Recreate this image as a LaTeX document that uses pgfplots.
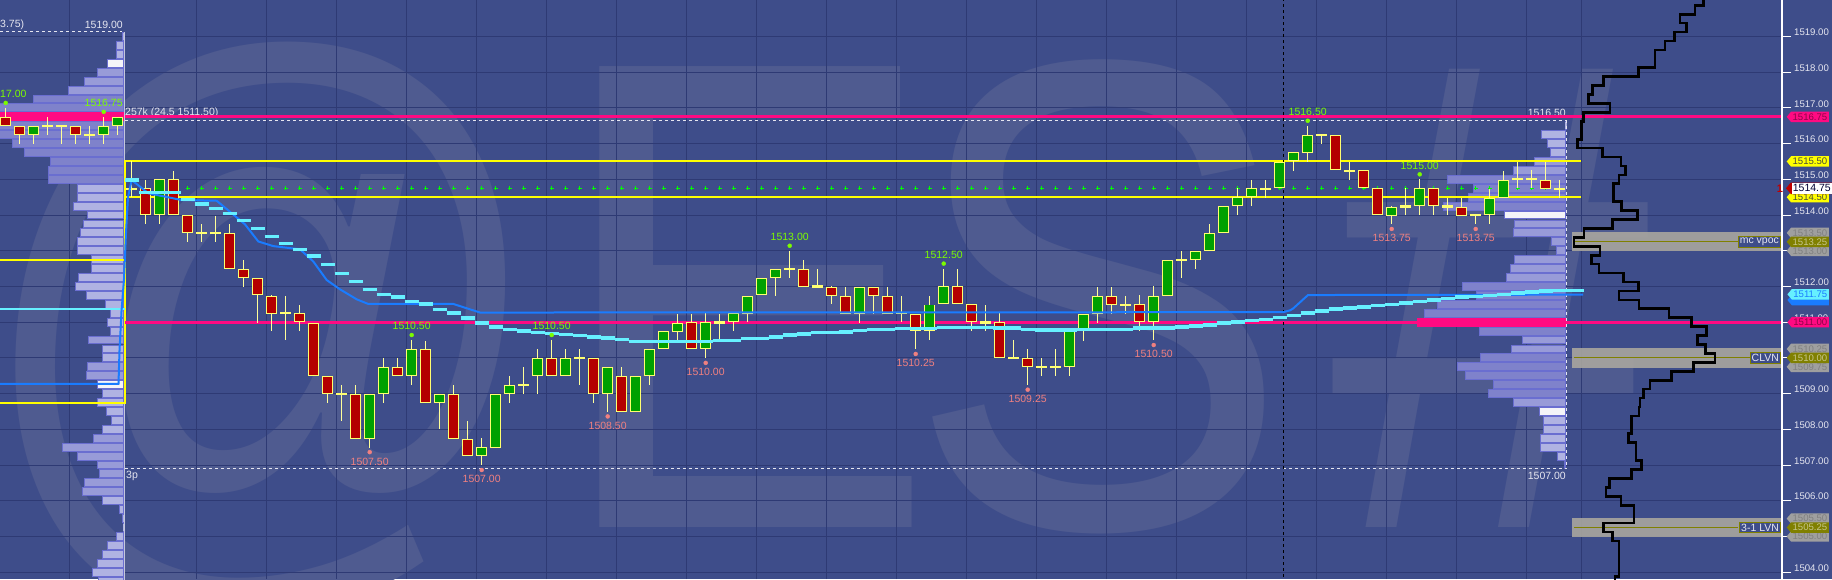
\documentclass[border=0pt]{standalone}
\usepackage{pgfplots}
\pgfplotsset{compat=1.18}
\usepackage{pgfplotstable}
\usepackage{fontspec}
\setmainfont{Liberation Sans}
\usetikzlibrary{shapes.symbols}

\definecolor{bg}{HTML}{3E4D8A}
\definecolor{wm}{HTML}{4F5B90}
\definecolor{gridc}{HTML}{2E3A74}
\definecolor{cup}{HTML}{00A000}
\definecolor{cdn}{HTML}{B40000}
\definecolor{cedge}{HTML}{FFFF70}
\definecolor{wick}{HTML}{FFFF99}
\definecolor{vwap}{HTML}{1A7CFF}
\definecolor{cyanl}{HTML}{66F0FF}
\definecolor{mag}{HTML}{FF0A82}
\definecolor{yel}{HTML}{FFFF00}
\definecolor{hidot}{HTML}{7CFC00}
\definecolor{lodot}{HTML}{F08080}
\definecolor{pborder}{HTML}{6A6ED0}
\definecolor{plight}{HTML}{B0B3E2}
\definecolor{pmid}{HTML}{989BD8}
\definecolor{pdark}{HTML}{7F82CB}
\definecolor{pwhite}{HTML}{F4F4F8}
\definecolor{zone}{HTML}{A9A69F}
\definecolor{olv}{HTML}{808000}
\definecolor{lbl}{HTML}{E6E6F0}
\definecolor{tagtxt}{HTML}{4A4A3A}

% candles: index i sits at x = 131.7 + 14 i (negative = prior session)
\pgfplotstableread{
i o h l c
-9 1516.75 1517.0 1516.5 1516.5
-8 1516.5 1516.5 1516.0 1516.25
-7 1516.25 1516.5 1516.0 1516.5
-6 1516.5 1516.75 1516.25 1516.5
-5 1516.5 1516.5 1516.0 1516.5
-4 1516.5 1516.5 1516.0 1516.25
-3 1516.25 1516.5 1516.0 1516.25
-2 1516.25 1516.75 1516.0 1516.5
-1 1516.5 1516.75 1516.25 1516.75
0 1514.75 1515.5 1514.5 1514.75
1 1514.75 1515.0 1513.75 1514.0
2 1514.0 1515.0 1513.75 1515.0
3 1515.0 1515.25 1514.0 1514.0
4 1514.0 1514.0 1513.25 1513.5
5 1513.5 1513.75 1513.25 1513.5
6 1513.5 1514.0 1513.25 1513.5
7 1513.5 1513.75 1512.5 1512.5
8 1512.5 1512.75 1512.0 1512.25
9 1512.25 1512.25 1511.0 1511.75
10 1511.75 1511.75 1510.75 1511.25
11 1511.25 1511.75 1510.5 1511.25
12 1511.25 1511.5 1510.75 1511.0
13 1511.0 1511.0 1509.5 1509.5
14 1509.5 1509.5 1508.75 1509.0
15 1509.0 1509.25 1508.25 1509.0
16 1509.0 1509.25 1507.75 1507.75
17 1507.75 1509.0 1507.5 1509.0
18 1509.0 1510.0 1508.75 1509.75
19 1509.75 1510.0 1509.5 1509.5
20 1509.5 1510.5 1509.25 1510.25
21 1510.25 1510.5 1508.75 1508.75
22 1508.75 1509.0 1508.0 1509.0
23 1509.0 1509.25 1507.75 1507.75
24 1507.75 1508.25 1507.25 1507.25
25 1507.25 1507.75 1507.0 1507.5
26 1507.5 1509.0 1507.5 1509.0
27 1509.0 1509.5 1508.75 1509.25
28 1509.25 1509.75 1509.0 1509.25
29 1509.5 1510.25 1509.0 1510.0
30 1510.0 1510.5 1509.5 1509.5
31 1509.5 1510.25 1509.5 1510.0
32 1510.0 1510.25 1509.25 1510.0
33 1510.0 1510.0 1508.75 1509.0
34 1509.0 1509.75 1508.5 1509.75
35 1509.5 1509.75 1508.5 1508.5
36 1508.5 1509.5 1508.5 1509.5
37 1509.5 1510.25 1509.25 1510.25
38 1510.25 1510.75 1510.25 1510.75
39 1510.75 1511.25 1510.5 1511.0
40 1511.0 1511.25 1510.25 1510.25
41 1510.25 1511.25 1510.0 1511.0
42 1511.0 1511.25 1510.5 1511.0
43 1511.0 1511.25 1510.75 1511.25
44 1511.25 1511.75 1511.0 1511.75
45 1511.75 1512.25 1511.75 1512.25
46 1512.25 1512.5 1511.75 1512.5
47 1512.5 1513.0 1512.25 1512.5
48 1512.5 1512.75 1512.0 1512.0
49 1512.0 1512.5 1512.0 1512.0
50 1512.0 1512.0 1511.5 1511.75
51 1511.75 1512.0 1511.25 1511.25
52 1511.25 1512.0 1511.0 1512.0
53 1512.0 1512.0 1511.25 1511.75
54 1511.75 1512.0 1511.25 1511.25
55 1511.25 1511.75 1511.0 1511.25
56 1511.25 1511.25 1510.25 1510.75
57 1510.75 1511.75 1510.5 1511.5
58 1511.5 1512.5 1511.5 1512.0
59 1512.0 1512.5 1511.5 1511.5
60 1511.5 1511.5 1510.75 1511.0
61 1511.0 1511.5 1510.75 1511.0
62 1511.0 1511.25 1510.0 1510.0
63 1510.0 1510.5 1510.0 1510.0
64 1510.0 1510.25 1509.25 1509.75
65 1509.75 1510.0 1509.5 1509.75
66 1509.75 1510.25 1509.5 1509.75
67 1509.75 1510.75 1509.5 1510.75
68 1510.75 1511.25 1510.5 1511.25
69 1511.25 1512.0 1511.0 1511.75
70 1511.75 1512.0 1511.25 1511.5
71 1511.5 1511.75 1511.25 1511.5
72 1511.5 1511.75 1510.75 1511.0
73 1511.0 1512.0 1510.5 1511.75
74 1511.75 1512.75 1511.75 1512.75
75 1512.75 1513.0 1512.25 1512.75
76 1512.75 1513.0 1512.5 1513.0
77 1513.0 1513.75 1513.0 1513.5
78 1513.5 1514.25 1513.5 1514.25
79 1514.25 1514.75 1514.0 1514.5
80 1514.5 1515.0 1514.25 1514.75
81 1514.75 1515.0 1514.5 1514.75
82 1514.75 1515.5 1514.75 1515.5
83 1515.5 1515.75 1515.25 1515.75
84 1515.75 1516.5 1515.5 1516.25
85 1516.25 1516.25 1516.0 1516.25
86 1516.25 1516.25 1515.25 1515.25
87 1515.25 1515.5 1515.0 1515.25
88 1515.25 1515.25 1514.75 1514.75
89 1514.75 1514.75 1514.0 1514.0
90 1514.0 1514.25 1513.75 1514.25
91 1514.25 1514.75 1514.0 1514.25
92 1514.25 1515.0 1514.0 1514.75
93 1514.75 1514.75 1514.0 1514.25
94 1514.25 1514.5 1514.0 1514.25
95 1514.25 1514.5 1514.0 1514.0
96 1514.0 1514.0 1513.75 1514.0
97 1514.0 1514.75 1513.75 1514.5
98 1514.5 1515.25 1514.5 1515.0
99 1515.0 1515.5 1514.75 1515.0
100 1515.0 1515.25 1514.75 1515.0
101 1515.0 1515.5 1514.75 1514.75
102 1514.75 1515.0 1514.5 1514.75
}\candles

% volume profiles: price, left end of bar, kind (0 light,1 dark,2 white,3 poc,4 mid)
\pgfplotstableread{
p l k
1519.0 122.3 0
1518.75 115.7 0
1518.5 115.7 0
1518.25 106.7 2
1518.0 97.3 4
1517.75 84.3 4
1517.5 68.3 4
1517.25 33.3 1
1517.0 -5 1
1516.75 -5 3
1516.5 -5 1
1516.25 -5 1
1516.0 12.3 1
1515.75 24.3 1
1515.5 50 1
1515.25 47.7 1
1515.0 48.3 1
1514.75 76.7 0
1514.5 76.7 0
1514.25 72.7 0
1514.0 87.3 0
1513.75 83.3 0
1513.5 80 0
1513.25 77.3 0
1513.0 77.3 0
1512.75 90.7 0
1512.5 90.7 0
1512.25 78.3 0
1512.0 75 0
1511.75 85.7 0
1511.5 105 0
1511.25 110 0
1511.0 106.7 0
1510.75 110 0
1510.5 88.3 4
1510.25 101.7 0
1510.0 101.7 0
1509.75 87.3 4
1509.5 85.7 4
1509.25 96.7 2
1509.0 101.7 0
1508.75 96.7 0
1508.5 106 0
1508.25 110.7 0
1508.0 102.3 0
1507.75 93.3 4
1507.5 62.3 4
1507.25 77.3 4
1507.0 97.3 4
1506.75 99.3 4
1506.5 84.3 4
1506.25 82.3 4
1506.0 101.7 0
1505.75 119 0
1505.5 121.7 0
1505.25 122.7 0
1505.0 115.7 0
1504.75 106.7 0
1504.5 102.3 0
1504.25 96.7 0
1504.0 91.7 0
1503.75 98.3 0
}\lprof

\pgfplotstableread{
p l k
1516.5 1565.3 0
1516.25 1541.3 0
1516.0 1547.3 0
1515.75 1550 0
1515.5 1534.3 4
1515.25 1513.3 4
1515.0 1446.7 1
1514.75 1473.3 1
1514.5 1467.7 1
1514.25 1443.3 1
1514.0 1504.3 2
1513.75 1514.3 4
1513.5 1513.3 4
1513.25 1551 4
1513.0 1556 4
1512.75 1514.3 4
1512.5 1510 4
1512.25 1505.7 4
1512.0 1462.3 1
1511.75 1475.7 1
1511.5 1436.7 1
1511.25 1424.3 1
1511.0 1417.3 3
1510.75 1479.3 1
1510.5 1522.3 4
1510.25 1511 4
1510.0 1480 1
1509.75 1457.3 1
1509.5 1465.3 1
1509.25 1493.3 1
1509.0 1488.3 1
1508.75 1513.3 4
1508.5 1539.3 2
1508.25 1543.3 0
1508.0 1543.3 0
1507.75 1540 0
1507.5 1540 0
1507.25 1557.3 0
1507.0 1564 0
}\rprof

% developing value line (cyan steps)
\pgfplotstableread{
i v
0 1514.98
1 1514.63
4 1514.44
5 1514.31
6 1514.19
7 1514.05
8 1513.85
9 1513.63
10 1513.40
11 1513.21
12 1513.04
13 1512.85
14 1512.62
15 1512.37
16 1512.14
17 1511.92
18 1511.78
19 1511.70
20 1511.58
21 1511.51
22 1511.36
23 1511.25
24 1511.11
25 1510.97
26 1510.86
27 1510.80
28 1510.75
29 1510.71
30 1510.68
31 1510.65
32 1510.62
33 1510.59
34 1510.56
35 1510.52
36 1510.46
42 1510.49
44 1510.54
46 1510.59
47 1510.64
48 1510.67
49 1510.71
51 1510.73
52 1510.76
53 1510.80
55 1510.82
58 1510.85
62 1510.83
64 1510.80
65 1510.78
68 1510.80
72 1510.83
75 1510.86
76 1510.89
77 1510.92
78 1510.97
79 1511.00
80 1511.04
81 1511.08
82 1511.13
83 1511.18
84 1511.25
85 1511.31
86 1511.37
87 1511.40
88 1511.43
89 1511.47
90 1511.50
91 1511.54
92 1511.58
93 1511.62
94 1511.66
95 1511.70
96 1511.72
97 1511.75
98 1511.78
99 1511.81
100 1511.84
101 1511.87
102 1511.89
104.2 1511.90
}\cyanline

% composite profile outline (x of the step for each 0.25 bin)
\pgfplotstableread{
p x
1520.0 1703.3
1519.75 1695
1519.5 1680
1519.25 1686.7
1519.0 1674.3
1518.75 1665
1518.5 1655
1518.25 1655
1518.0 1638.3
1517.75 1603.3
1517.5 1592.3
1517.25 1588.3
1517.0 1610
1516.75 1583.3
1516.5 1581.7
1516.25 1581.7
1516.0 1577.7
1515.75 1602.3
1515.5 1621
1515.25 1625.7
1515.0 1619
1514.75 1613.3
1514.5 1613.3
1514.25 1621.7
1514.0 1637.3
1513.75 1612.3
1513.5 1584
1513.25 1574
1513.0 1600
1512.75 1591.7
1512.5 1599
1512.25 1623.3
1512.0 1638.3
1511.75 1619
1511.5 1639
1511.25 1669
1511.0 1691.7
1510.75 1706.7
1510.5 1697.7
1510.25 1705.7
1510.0 1715
1509.75 1693.3
1509.5 1671.7
1509.25 1650
1509.0 1643.3
1508.75 1640
1508.5 1639
1508.25 1631.7
1508.0 1631.7
1507.75 1628.3
1507.5 1636
1507.25 1636
1507.0 1641.7
1506.75 1631.7
1506.5 1609.3
1506.25 1606
1506.0 1621
1505.75 1634
1505.5 1634
1505.25 1603.3
1505.0 1612.3
1504.75 1619
1504.5 1619
1504.25 1619
1504.0 1619
1503.75 1615
1503.5 1615
}\composite

\newcommand{\lf}{\fontsize{10.5}{12}\selectfont}

% horizontal bars of a profile: #1 table, #2 right edge
\newcommand{\profilebars}[2]{%
  \addplot[draw=none, mark=none, forget plot, error bars/.cd, x dir=both, x explicit,
    error mark=none, error bar style={draw=pborder, line width=8.9pt}]
    table[x expr=(\thisrow{l}+#2)/2, y=p, x error expr=(#2-\thisrow{l})/2]{#1};
  \addplot[draw=none, mark=none, forget plot, error bars/.cd, x dir=both, x explicit,
    error mark=none, error bar style={draw=plight, line width=6.9pt}]
    table[x expr=(\thisrow{l}+#2)/2, y=p, x error expr={(\thisrow{k}==0)*((#2-\thisrow{l})/2-1)}]{#1};
  \addplot[draw=none, mark=none, forget plot, error bars/.cd, x dir=both, x explicit,
    error mark=none, error bar style={draw=pdark, line width=6.9pt}]
    table[x expr=(\thisrow{l}+#2)/2, y=p, x error expr={(\thisrow{k}==1)*((#2-\thisrow{l})/2-1)}]{#1};
  \addplot[draw=none, mark=none, forget plot, error bars/.cd, x dir=both, x explicit,
    error mark=none, error bar style={draw=pwhite, line width=6.9pt}]
    table[x expr=(\thisrow{l}+#2)/2, y=p, x error expr={(\thisrow{k}==2)*((#2-\thisrow{l})/2-1)}]{#1};
  \addplot[draw=none, mark=none, forget plot, error bars/.cd, x dir=both, x explicit,
    error mark=none, error bar style={draw=mag, line width=8.9pt}]
    table[x expr=(\thisrow{l}+#2)/2, y=p, x error expr={(\thisrow{k}==3)*((#2-\thisrow{l})/2)}]{#1};
  \addplot[draw=none, mark=none, forget plot, error bars/.cd, x dir=both, x explicit,
    error mark=none, error bar style={draw=pmid, line width=6.9pt}]
    table[x expr=(\thisrow{l}+#2)/2, y=p, x error expr={(\thisrow{k}==4)*((#2-\thisrow{l})/2-1)}]{#1};
}

\tikzset{
  tag/.style={signal, signal to=west, signal pointer angle=100, inner xsep=1.5pt,
    inner ysep=0.5pt, minimum height=10.5pt, font=\fontsize{9.6}{10}\selectfont, anchor=east},
  glab/.style={text=hidot, font=\lf, inner sep=0pt},
  rlab/.style={text=lodot, font=\lf, inner sep=0pt},
  zlab/.style={fill=bg, draw=olv, line width=1.2pt, text=lbl, inner sep=1.5pt,
    font=\lf, anchor=east},
  wmark/.style={text=wm, font=\fontsize{670}{670}\selectfont, anchor=base west,
    inner sep=0pt, xscale=0.86}
}

\begin{document}
\begin{tikzpicture}
\fill[bg] (0,0) rectangle (1832pt,579pt);
\begin{scope}
\clip (0,0) rectangle (1832pt,579pt);
% faint symbol watermark
\node[wmark] at (-30pt,52pt) {@};
\node[wmark] at (552pt,52pt) {E};
\node[wmark] at (906pt,52pt) {S};
\node[wmark] at (1330pt,52pt) {\#};

\begin{axis}[
  at={(0,0)}, anchor=south west,
  scale only axis, width=1782pt, height=579pt,
  xmin=0, xmax=1782, ymin=1503.808, ymax=1520.022,
  clip=false,
  axis line style={draw=none},
  xtick={69,196,266,336,406,476,546,616,686,756,826,896,966,1036,1106,1176,1246,1316,1386,1456,1526,1581},
  xticklabels={}, xtick style={draw=none},
  ytick={1504,1505,...,1519}, minor y tick num=3,
  ytick pos=right, yticklabel pos=right,
  tick align=outside, major tick length=9pt, minor tick length=5pt,
  ytick style={draw=white, line width=1pt},
  xmajorgrids=true, ymajorgrids=true,
  major grid style={draw=gridc, line width=1pt},
  scaled y ticks=false,
  /pgf/number format/assume math mode=true,
  yticklabel style={text=lbl, font=\fontsize{9.6}{10}\selectfont, anchor=south west,
    inner sep=0.5pt, xshift=2.5pt, yshift=0pt,
    /pgf/number format/.cd, fixed, fixed zerofill, precision=2, 1000 sep={}},
]

% volume profiles
\profilebars{\lprof}{124}
\profilebars{\rprof}{1566}

% session text
\node[anchor=west, text=lbl, font=\lf, inner sep=0pt] at (axis cs:125,1516.86) {257k (24.5 1511.50)};
\node[anchor=east, text=lbl, font=\lf, inner sep=0pt] at (axis cs:123,1519.32) {1519.00};
\node[anchor=west, text=lbl, font=\lf, inner sep=0pt] at (axis cs:0,1519.32) {3.75)};
\node[anchor=east, text=lbl, font=\lf, inner sep=0pt] at (axis cs:1566,1516.85) {1516.50};
\node[anchor=east, text=lbl, font=\lf, inner sep=0pt] at (axis cs:1566,1506.70) {1507.00};
\node[anchor=west, text=lbl, font=\lf, inner sep=0pt] at (axis cs:126,1506.69) {3p};

% profile frames
\addplot[lbl, dash pattern=on 3pt off 3pt, line width=1pt] coordinates {(0,1519.13) (122,1519.13)};
\addplot[lbl!80!bg, line width=1pt] coordinates {(124,1519.13) (124,1503.7)};
\addplot[lbl, dash pattern=on 3pt off 3pt, line width=1pt] coordinates {(125,1516.66) (1566,1516.66)};
\addplot[lbl, dash pattern=on 3pt off 3pt, line width=1pt] coordinates {(125,1506.91) (1566,1506.91)};
\addplot[lbl, dash pattern=on 3pt off 3pt, line width=1pt] coordinates {(1566,1516.66) (1566,1506.91)};

% reference levels
\addplot[yel, line width=2pt] coordinates {(0,1512.75) (125,1512.75)};
\addplot[yel, line width=2pt] coordinates {(0,1508.75) (125,1508.75) (125,1515.5) (1581,1515.5)};
\addplot[yel, line width=2pt] coordinates {(125,1514.5) (1581,1514.5)};
\addplot[mag, line width=3pt] coordinates {(125,1516.75) (1782,1516.75)};
\addplot[mag, line width=3pt] coordinates {(125,1511.0) (1782,1511.0)};
% green cross line at 1514.75
\addplot[green, line width=1pt, dash pattern=on 4pt off 10pt] coordinates {(185.7,1514.75) (1562,1514.75)};
\addplot[green, line width=4pt, dash pattern=on 1pt off 13pt] coordinates {(187.2,1514.75) (1562,1514.75)};
% time marker
\addplot[black, line width=1pt, dash pattern=on 3pt off 3pt] coordinates {(1283.3,1503.7) (1283.3,1520.1)};

% candles
\addplot[draw=none, mark=none, forget plot, error bars/.cd, y dir=both, y explicit,
  error mark=none, error bar style={draw=wick, line width=1pt}]
  table[x expr=131.7+14*\thisrow{i}, y expr=(\thisrow{h}+\thisrow{l})/2,
    y error expr=(\thisrow{h}-\thisrow{l})/2]{\candles};
\addplot[draw=none, mark=none, forget plot, error bars/.cd, y dir=both, y explicit,
  error mark=none, error bar style={draw=cedge, line width=11pt}]
  table[x expr=131.7+14*\thisrow{i}, y expr=(\thisrow{o}+\thisrow{c})/2,
    y error expr={max(abs(\thisrow{c}-\thisrow{o})/2,0.03)}]{\candles};
\addplot[draw=none, mark=none, forget plot, error bars/.cd, y dir=both, y explicit,
  error mark=none, error bar style={draw=cup, line width=9pt}]
  table[x expr=131.7+14*\thisrow{i}, y expr=(\thisrow{o}+\thisrow{c})/2,
    y error expr={(\thisrow{c}>\thisrow{o})*((\thisrow{c}-\thisrow{o})/2-0.028)}]{\candles};
\addplot[draw=none, mark=none, forget plot, error bars/.cd, y dir=both, y explicit,
  error mark=none, error bar style={draw=cdn, line width=9pt}]
  table[x expr=131.7+14*\thisrow{i}, y expr=(\thisrow{o}+\thisrow{c})/2,
    y error expr={(\thisrow{o}>\thisrow{c})*((\thisrow{o}-\thisrow{c})/2-0.028)}]{\candles};

% vwap lines
\addplot[cyanl, line width=2.5pt] coordinates {(0,1511.37) (125,1511.37)};
\addplot[vwap, line width=2pt] coordinates {
  (0,1509.27) (118.5,1509.27) (119.5,1510.2) (121.5,1511.3) (124,1512.2) (126,1513.5)
  (128,1514.5) (131.7,1514.98) (148.3,1514.61) (181.7,1514.42) (216.7,1514.40)
  (230,1514.09) (245,1513.74) (258.3,1513.26) (273.3,1513.13) (300,1513.04)
  (313.3,1512.70) (326.7,1512.18) (340,1511.92) (356.7,1511.64) (368.3,1511.51)
  (453.3,1511.51) (480,1511.27) (1283,1511.28) (1290,1511.33) (1293,1511.38)
  (1308,1511.76) (1583,1511.77)};
\addplot[cyanl, line width=3.5pt, jump mark left] table[x expr=124.7+14*\thisrow{i}, y=v]{\cyanline};

% swing highs / lows
\addplot[only marks, mark=*, mark size=2pt, color=hidot] coordinates {
  (5.7,1517.14) (103.7,1516.89) (411.7,1510.64) (551.7,1510.64) (789.7,1513.14)
  (943.7,1512.64) (1307.7,1516.64) (1419.7,1515.14)};
\addplot[only marks, mark=*, mark size=2pt, color=lodot] coordinates {
  (369.7,1507.36) (481.7,1506.86) (607.7,1508.36) (705.7,1509.86) (915.7,1510.11)
  (1027.7,1509.11) (1153.7,1510.36) (1391.7,1513.61) (1475.7,1513.61)};
\node[glab, anchor=west] at (axis cs:0,1517.39) {17.00};
\node[glab] at (axis cs:103.7,1517.14) {1516.75};
\node[glab] at (axis cs:411.7,1510.89) {1510.50};
\node[glab] at (axis cs:551.7,1510.89) {1510.50};
\node[glab] at (axis cs:789.7,1513.39) {1513.00};
\node[glab] at (axis cs:943.7,1512.89) {1512.50};
\node[glab] at (axis cs:1307.7,1516.89) {1516.50};
\node[glab] at (axis cs:1419.7,1515.39) {1515.00};
\node[rlab] at (axis cs:369.7,1507.10) {1507.50};
\node[rlab] at (axis cs:481.7,1506.60) {1507.00};
\node[rlab] at (axis cs:607.7,1508.10) {1508.50};
\node[rlab] at (axis cs:705.7,1509.60) {1510.00};
\node[rlab] at (axis cs:915.7,1509.85) {1510.25};
\node[rlab] at (axis cs:1027.7,1508.85) {1509.25};
\node[rlab] at (axis cs:1153.7,1510.10) {1510.50};
\node[rlab] at (axis cs:1391.7,1513.35) {1513.75};
\node[rlab] at (axis cs:1475.7,1513.35) {1513.75};

% low volume zones
\addplot[fill=zone, draw=none, opacity=0.9] coordinates {(1571.7,1513.52) (1782,1513.52) (1782,1512.98) (1571.7,1512.98)} --cycle;
\addplot[fill=zone, draw=none, opacity=0.9] coordinates {(1571.7,1510.27) (1782,1510.27) (1782,1509.73) (1571.7,1509.73)} --cycle;
\addplot[fill=zone, draw=none, opacity=0.9] coordinates {(1571.7,1505.52) (1782,1505.52) (1782,1504.98) (1571.7,1504.98)} --cycle;
\addplot[olv, line width=1pt] coordinates {(1574,1513.25) (1740,1513.25)};
\addplot[olv, line width=1pt] coordinates {(1574,1510.0) (1755,1510.0)};
\addplot[olv, line width=1pt] coordinates {(1574,1505.25) (1738,1505.25)};

% composite profile outline
\addplot[black, line width=2.7pt, const plot mark right] table[x=x, y expr=\thisrow{p}+0.125]{\composite};

\node[zlab] at (axis cs:1781,1513.25) {mc vpoc};
\node[zlab] at (axis cs:1781,1510.0) {CLVN};
\node[zlab] at (axis cs:1781,1505.25) {3-1 LVN};

% price scale line
\addplot[white, line width=1.2pt] coordinates {(1782,1503.7) (1782,1520.1)};

% price tags
\node[tag, fill=gray!75, text=gray] at (axis cs:1829,1513.5) {1513.50};
\node[tag, fill=gray!75, text=gray] at (axis cs:1829,1513.0) {1513.00};
\node[tag, fill=olv, text=olv!45!white] at (axis cs:1829,1513.25) {1513.25};
\node[tag, fill=gray!75, text=gray] at (axis cs:1829,1510.25) {1510.25};
\node[tag, fill=gray!75, text=gray] at (axis cs:1829,1509.75) {1509.75};
\node[tag, fill=olv, text=olv!45!white] at (axis cs:1829,1510.0) {1510.00};
\node[tag, fill=gray!75, text=gray] at (axis cs:1829,1505.5) {1505.50};
\node[tag, fill=gray!75, text=gray] at (axis cs:1829,1505.0) {1505.00};
\node[tag, fill=olv, text=olv!45!white] at (axis cs:1829,1505.25) {1505.25};
\node[tag, fill=vwap, text=vwap] at (axis cs:1829,1511.62) {1511.75};
\node[tag, fill=cyanl, text=vwap] at (axis cs:1829,1511.78) {1511.75};
\node[tag, fill=mag, text=mag!55!black] at (axis cs:1829,1516.75) {1516.75};
\node[tag, fill=mag, text=mag!55!black] at (axis cs:1829,1511.0) {1511.00};
\node[tag, fill=yel, text=tagtxt] at (axis cs:1829,1515.5) {1515.50};
\node[tag, fill=yel, text=tagtxt] at (axis cs:1829,1514.5) {1514.50};
\node[tag, fill=red!75!black, minimum height=11.5pt, font=\fontsize{10.5}{11}\selectfont] at (axis cs:1832,1514.75) {\phantom{1514.75}};
\node[fill=white, text=black!80!blue, anchor=east, inner xsep=1pt, inner ysep=0.5pt, minimum height=11.5pt,
  font=\fontsize{10.5}{11}\selectfont] at (axis cs:1832,1514.75) {1514.75};
\node[text=red!75!black, font=\bfseries\fontsize{11}{11}\selectfont, inner sep=0pt] at (axis cs:1780,1514.75) {1};

\end{axis}
\end{scope}
\pgfresetboundingbox
\path[use as bounding box] (0,0) rectangle (1832pt,579pt);
\end{tikzpicture}
\end{document}
